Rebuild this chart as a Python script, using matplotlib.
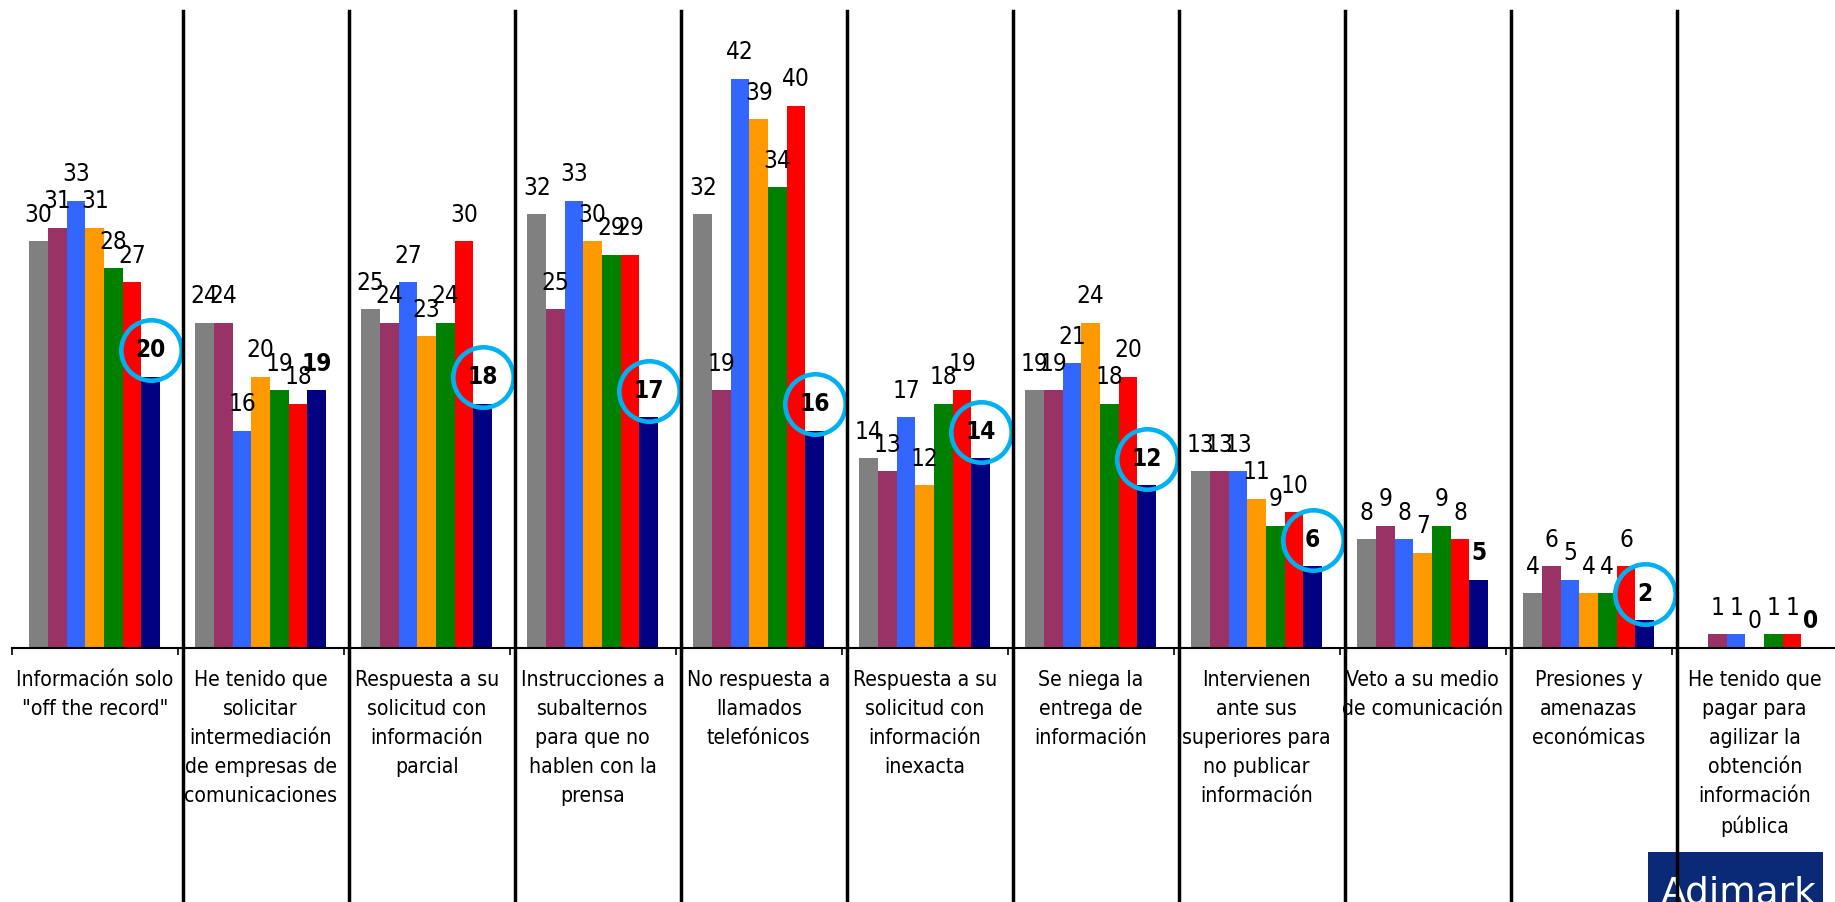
import matplotlib
matplotlib.use("Agg")
import matplotlib.pyplot as plt
import numpy as np
from matplotlib.patches import Rectangle
from matplotlib.transforms import blended_transform_factory

plt.rcParams['font.family'] = ['DejaVu Sans']
plt.rcParams['font.stretch'] = 'condensed'

categories = [
    'Información solo\n"off the record"',
    'He tenido que\nsolicitar\nintermediación\nde empresas de\ncomunicaciones',
    'Respuesta a su\nsolicitud con\ninformación\nparcial',
    'Instrucciones a\nsubalternos\npara que no\nhablen con la\nprensa',
    'No respuesta a\nllamados\ntelefónicos',
    'Respuesta a su\nsolicitud con\ninformación\ninexacta',
    'Se niega la\nentrega de\ninformación',
    'Intervienen\nante sus\nsuperiores para\nno publicar\ninformación',
    'Veto a su medio\nde comunicación',
    'Presiones y\namenazas\neconómicas',
    'He tenido que\npagar para\nagilizar la\nobtención\ninformación\npública',
]

# one list per series (7 series, 11 categories); None = no data
gray = [30, 24, 25, 32, 32, 14, 19, 13, 8, 4, None]
maroon = [31, 24, 24, 25, 19, 13, 19, 13, 9, 6, 1]
blue = [33, 16, 27, 33, 42, 17, 21, 13, 8, 5, 1]
orange = [31, 20, 23, 30, 39, 12, 24, 11, 7, 4, 0]
green = [28, 19, 24, 29, 34, 18, 18, 9, 9, 4, 1]
red = [27, 18, 30, 29, 40, 19, 20, 10, 8, 6, 1]
navy = [20, 19, 18, 17, 16, 14, 12, 6, 5, 2, 0]

# categories whose last value is circled
circled = [0, 2, 3, 4, 5, 6, 7, 9]

series = [gray, maroon, blue, orange, green, red, navy]
colors = ['#808080', '#993366', '#3366FF', '#FF9900', '#008000', '#FF0000', '#000080']

W, H = 1835, 902
fig = plt.figure(figsize=(W / 100, H / 100), dpi=100)
base_px = 647.5
unit_px = 13.54
left_px = 11.7
cat_px = 166.0
ax = fig.add_axes([left_px / W, (H - base_px) / H, 11 * cat_px / W, base_px / H])
ax.set_xlim(-0.5, 10.5)
ax.set_ylim(0, base_px / unit_px)
ax.patch.set_alpha(0)

x = np.arange(len(categories))
bw = 0.787 / 7
lab_off = 1.95

for j, (vals, col) in enumerate(zip(series, colors)):
    xs = x + (j - 3) * bw
    hs = [np.nan if v is None else v for v in vals]
    ax.bar(xs, hs, width=bw, color=col, linewidth=0, zorder=2)
    for xi, v in zip(xs, vals):
        if v is None:
            continue
        ax.text(xi, v + lab_off, '%d' % v, ha='center', va='center',
                fontsize=17.5, fontweight='bold' if j == 6 else 'normal',
                color='black', zorder=4)

# blue rings around the highlighted values
nx = x + 3 * bw
ax.plot([nx[i] for i in circled], [navy[i] + lab_off for i in circled],
        linestyle='none', marker='o', markersize=43.5, markerfacecolor='none',
        markeredgecolor='#00B0F0', markeredgewidth=3.3, zorder=3, clip_on=False)

# axis
for s in ['left', 'right', 'top']:
    ax.spines[s].set_visible(False)
ax.spines['bottom'].set_linewidth(1.5)
ax.set_yticks([])
ax.set_xticks(x)
ax.set_xticklabels(categories, fontsize=15.2, linespacing=1.56)
ax.set_xticks(np.arange(-0.5, 10.6, 1), minor=True)
ax.tick_params(axis='x', which='major', length=0, pad=16)
ax.tick_params(axis='x', which='minor', length=5, width=1.2, direction='out')

# separators between categories, full figure height
tr = blended_transform_factory(ax.transData, fig.transFigure)
for i in range(10):
    ax.plot([i + 0.53, i + 0.53], [0, 1 - 11 / H], color='black', lw=2.5,
            transform=tr, clip_on=False, zorder=5)

# logo box in the corner
fig.add_artist(Rectangle((1648 / W, 0), 175 / W, 50 / H, transform=fig.transFigure,
                         facecolor='#0A2A78', edgecolor='none', zorder=-1))
fig.text(1661 / W, -2 / H, 'Adimark', color='white', fontsize=27,
         fontstretch='normal', ha='left', va='baseline', zorder=-1)

fig.savefig('out.png', dpi=100)
